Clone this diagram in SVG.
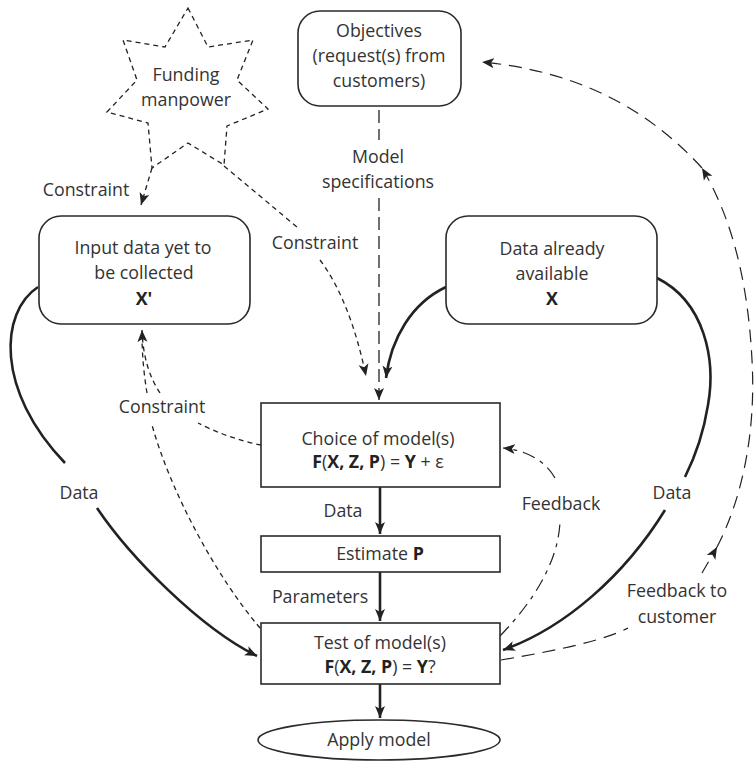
<svg xmlns="http://www.w3.org/2000/svg" width="754" height="762" viewBox="0 0 754 762">
<style>
.t{font-family:"Open Sans","Liberation Sans",sans-serif;font-size:17.8px;fill:#333;text-anchor:middle}
.b{font-weight:bold;fill:#222}
.box{fill:#fff;stroke:#2a2a2a;stroke-width:1.6}
.thick{fill:none;stroke:#222;stroke-width:2.6}
.short{fill:none;stroke:#222;stroke-width:1.3;stroke-dasharray:5 4}
.long{fill:none;stroke:#222;stroke-width:1.3;stroke-dasharray:13 6}
.dd{fill:none;stroke:#222;stroke-width:1.2;stroke-dasharray:13 6 4 6}
.cust{fill:none;stroke:#222;stroke-width:1.2;stroke-dasharray:13 8}
</style>
<defs>
<marker id="ah" markerUnits="userSpaceOnUse" markerWidth="14" markerHeight="12" refX="12" refY="5" orient="auto" viewBox="0 0 14 10">
<path d="M0,0 L12,5 L0,10 L3,5 z" fill="#222"/>
</marker>
</defs>
<g id="connectors">
<path class="short" d="M152,168 L141,205" marker-end="url(#ah)"/>
<path class="short" d="M224,166 L297,227"/>
<path class="short" d="M320,260 Q350,300 366,376" marker-end="url(#ah)"/>
<path class="long" d="M379,110 L379,140"/>
<path class="long" d="M379,198 L379,400" marker-end="url(#ah)"/>
<path class="thick" d="M446,287 C412,303 391,338 386,378" marker-end="url(#ah)"/>
<path class="thick" d="M38,287 C0,312 -5,390 65,463"/>
<path class="thick" d="M97,508 C130,557 200,628 257,656" marker-end="url(#ah)"/>
<path class="thick" d="M657,278 C705,302 716,360 708,405 C704,430 696,455 685,477"/>
<path class="thick" d="M665,510 C625,575 565,628 503,650" marker-end="url(#ah)"/>
<path class="short" d="M261,445 C240,441 215,432 198,423"/>
<path class="short" d="M160,393 C150,378 143,358 142,330" marker-end="url(#ah)"/>
<path class="short" d="M260,628 C215,575 170,490 152,425"/>
<path class="short" d="M147,393 C144,375 142,355 142,334"/>
<path class="thick" d="M380,487 L380,534" marker-end="url(#ah)"/>
<path class="thick" d="M380,572 L380,621" marker-end="url(#ah)"/>
<path class="thick" d="M380,684 L380,718" marker-end="url(#ah)"/>
<path class="dd" d="M500,636 C530,605 558,565 560,522"/>
<path class="dd" d="M555,478 C545,460 525,450 503,448" marker-end="url(#ah)"/>
<path class="cust" d="M501,660 C560,650 605,640 628,628"/>
<path class="cust" d="M702,573 L717,547" marker-end="url(#ah)"/>
<path class="cust" d="M717,547 C743,497 756,430 752,360 C748,282 732,218 702,168" marker-end="url(#ah)"/>
<path class="cust" d="M702,168 C640,100 565,70 482,62" marker-end="url(#ah)"/>
</g>
<g id="star">
<polygon points="188,8 208,47 253,40 237,80 268,109 227,126 224,165 188,143 152,168 148,123 107,112 137,80 123,40 165,47" fill="#fff" stroke="#222" stroke-width="1.3" stroke-dasharray="5 4"/>
<text class="t" x="186" y="81">Funding</text>
<text class="t" x="186" y="106">manpower</text>
</g>
<g id="objectives">
<rect class="box" x="298" y="11" width="163" height="95" rx="22"/>
<text class="t" x="379" y="37">Objectives</text>
<text class="t" x="379" y="62">(request(s) from</text>
<text class="t" x="379" y="87">customers)</text>
</g>
<g id="input">
<rect class="box" x="39" y="216" width="211" height="108" rx="22"/>
<text class="t" x="143" y="254">Input data yet to</text>
<text class="t" x="144" y="279">be collected</text>
<text class="t b" x="144" y="305">X'</text>
</g>
<g id="available">
<rect class="box" x="446" y="216" width="211" height="108" rx="22"/>
<text class="t" x="552" y="255">Data already</text>
<text class="t" x="552" y="280">available</text>
<text class="t b" x="552" y="305">X</text>
</g>
<g id="choice">
<rect class="box" x="261" y="403" width="239" height="84"/>
<text class="t" x="378" y="445">Choice of model(s)</text>
<text class="t" x="378" y="468"><tspan class="b">F</tspan>(<tspan class="b">X, Z, P</tspan>) = <tspan class="b">Y</tspan> + ε</text>
</g>
<g id="estimate">
<rect class="box" x="261" y="536" width="239" height="36"/>
<text class="t" x="380" y="560">Estimate <tspan class="b">P</tspan></text>
</g>
<g id="test">
<rect class="box" x="261" y="623" width="239" height="61"/>
<text class="t" x="380" y="649">Test of model(s)</text>
<text class="t" x="380" y="673"><tspan class="b">F</tspan>(<tspan class="b">X, Z, P</tspan>) = <tspan class="b">Y</tspan>?</text>
</g>
<g id="apply">
<ellipse class="box" cx="379" cy="740" rx="121" ry="20"/>
<text class="t" x="379" y="746">Apply model</text>
</g>
<g id="labels">
<text class="t" x="86" y="196">Constraint</text>
<text class="t" x="315" y="249">Constraint</text>
<text class="t" x="378" y="163">Model</text>
<text class="t" x="378" y="188">specifications</text>
<text class="t" x="162" y="413">Constraint</text>
<text class="t" x="79" y="499">Data</text>
<text class="t" x="343" y="517">Data</text>
<text class="t" x="320" y="603">Parameters</text>
<text class="t" x="561" y="510">Feedback</text>
<text class="t" x="672" y="499">Data</text>
<text class="t" x="677" y="597">Feedback to</text>
<text class="t" x="677" y="623">customer</text>
</g>
</svg>
